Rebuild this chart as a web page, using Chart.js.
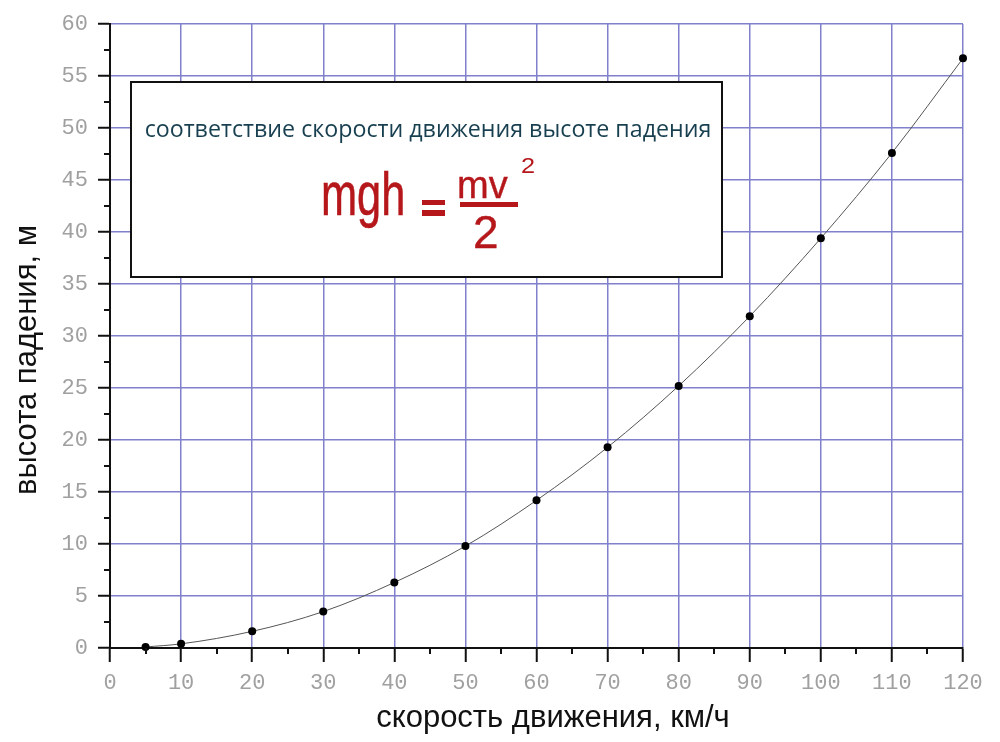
<!DOCTYPE html>
<html>
<head>
<meta charset="utf-8">
<script src="https://cdn.jsdelivr.net/npm/chart.js@4"></script>
<style>
  body { margin: 0; background: #fff; }
  #wrap { width: 1000px; height: 742px; }
</style>
</head>
<body>
<div id="wrap"><canvas id="chart" width="1000" height="742"></canvas></div>
<script>
// data
const speeds = [5, 10, 20, 30, 40, 50, 60, 70, 80, 90, 100, 110, 120]
const heights = [0.1, 0.4, 1.6, 3.5, 6.3, 9.8, 14.2, 19.3, 25.2, 31.9, 39.4, 47.6, 56.7]
const xTitle = 'скорость движения, км/ч'
const yTitle = 'высота падения, м'
const boxTitle = 'соответствие скорости движения высоте падения'

// styles
const gridBlue = 'rgb(128, 128, 204)'
const tickGray = '#a0a0a0'
const monoFont = { family: 'Liberation Mono', size: 22 }

const isMajor = (v, step) => Math.abs(v / step - Math.round(v / step)) < 1e-6

// minor tick marks + titles + box
const decorations = {
    id: 'decorations',
    beforeDatasetsDraw(chart) {
        const ctx = chart.ctx
        // annotation box
        ctx.save()
        ctx.fillStyle = '#fff'
        ctx.fillRect(131, 82, 591, 195)
        ctx.strokeStyle = '#111'
        ctx.lineWidth = 2
        ctx.strokeRect(131, 82, 591, 195)

        // caption
        let size = 19
        ctx.font = size + 'px "Open Sans"'
        size = size * 567 / ctx.measureText(boxTitle).width
        ctx.font = size + 'px "Open Sans"'
        ctx.fillStyle = '#173f4f'
        ctx.textAlign = 'center'
        ctx.textBaseline = 'alphabetic'
        ctx.fillText(boxTitle, 428, 137)

        // formula
        const red = '#b5171b'
        ctx.fillStyle = red
        ctx.strokeStyle = red
        ctx.textAlign = 'left'
        const narrow = (txt, x, y, px, sx, w) => {
            ctx.save()
            ctx.font = px + 'px "Liberation Sans"'
            ctx.translate(x, y)
            ctx.scale(sx, 1)
            ctx.fillText(txt, 0, 0)
            if (w > 0) {
                ctx.lineWidth = w
                ctx.strokeText(txt, 0, 0)
            }
            ctx.restore()
        }
        narrow('mgh', 321, 215, 61, 0.71, 0.6)
        ctx.fillRect(422, 200, 23, 5)
        ctx.fillRect(422, 210, 23, 6)
        narrow('mv', 457, 198, 38, 1.0, 0.4)
        ctx.fillRect(460, 202, 58, 5)
        narrow('2', 473, 248, 46, 1.0, 0.4)
        narrow('2', 521, 173, 22, 1.15, 0)
        ctx.restore()
    },
    afterDraw(chart) {
        const ctx = chart.ctx
        const x = chart.scales.x
        const y = chart.scales.y
        const area = chart.chartArea
        ctx.save()
        ctx.strokeStyle = '#111'
        ctx.lineWidth = 2
        x.ticks.forEach(t => {
            if (!isMajor(t.value, 10)) {
                const px = Math.round(x.getPixelForValue(t.value))
                ctx.beginPath()
                ctx.moveTo(px, area.bottom)
                ctx.lineTo(px, area.bottom + 6)
                ctx.stroke()
            }
        })
        y.ticks.forEach(t => {
            if (!isMajor(t.value, 5)) {
                const py = Math.round(y.getPixelForValue(t.value))
                ctx.beginPath()
                ctx.moveTo(area.left, py)
                ctx.lineTo(area.left - 6, py)
                ctx.stroke()
            }
        })

        // axis titles
        ctx.fillStyle = '#111'
        ctx.font = '31px "Liberation Sans"'
        ctx.textAlign = 'center'
        ctx.textBaseline = 'alphabetic'
        ctx.fillText(xTitle, 553, 727)
        ctx.translate(36, 360)
        ctx.rotate(-Math.PI / 2)
        ctx.fillText(yTitle, 0, 0)
        ctx.restore()
    }
}

const config = {
    type: 'line',
    data: {
        datasets: [{
            data: speeds.map((s, i) => ({ x: s, y: heights[i] })),
            borderColor: '#555',
            borderWidth: 1,
            cubicInterpolationMode: 'monotone',
            pointRadius: 4,
            pointBackgroundColor: '#000',
            pointBorderColor: '#000',
            pointBorderWidth: 0,
            clip: false
        }]
    },
    options: {
        responsive: false,
        animation: false,
        layout: { padding: { top: 24, right: 37, left: 0, bottom: 0 } },
        plugins: { legend: { display: false }, tooltip: { enabled: false } },
        scales: {
            x: {
                type: 'linear',
                min: 0,
                max: 120,
                afterFit: s => { s.height = 94 },
                border: { color: '#111', width: 2 },
                grid: {
                    color: c => (isMajor(c.tick.value, 10) ? gridBlue : 'transparent'),
                    tickColor: c => (isMajor(c.tick.value, 10) ? '#111' : 'transparent'),
                    lineWidth: 1.5,
                    tickWidth: 2,
                    tickLength: 14
                },
                ticks: {
                    stepSize: 5,
                    autoSkip: false,
                    maxRotation: 0,
                    padding: 8,
                    color: tickGray,
                    font: monoFont,
                    callback: v => (isMajor(v, 10) ? v : '')
                }
            },
            y: {
                type: 'linear',
                min: 0,
                max: 60,
                afterFit: s => { s.width = 110 },
                border: { color: '#111', width: 2 },
                grid: {
                    color: c => (isMajor(c.tick.value, 5) ? gridBlue : 'transparent'),
                    tickColor: c => (isMajor(c.tick.value, 5) ? '#111' : 'transparent'),
                    lineWidth: 1.5,
                    tickWidth: 2,
                    tickLength: 12
                },
                ticks: {
                    stepSize: 2.5,
                    autoSkip: false,
                    padding: 10,
                    color: tickGray,
                    font: monoFont,
                    callback: v => (isMajor(v, 5) ? v : '')
                }
            }
        }
    },
    plugins: [decorations]
}

const chart = new Chart(document.getElementById('chart'), config)
</script>
</body>
</html>
